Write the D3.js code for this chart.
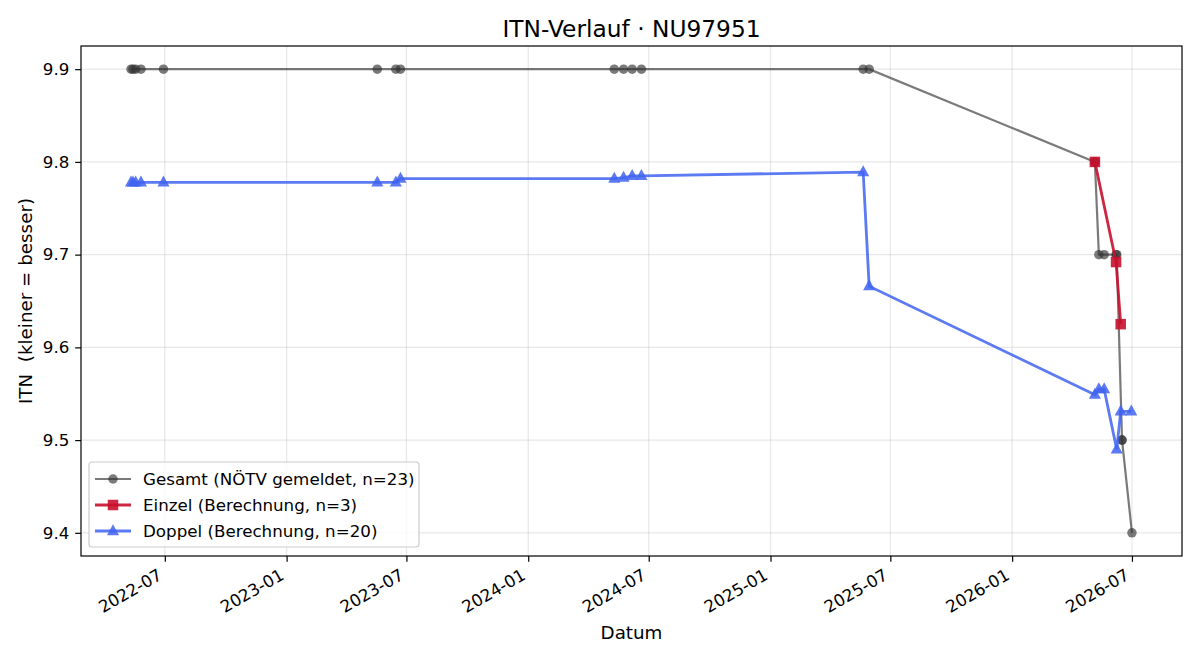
<!DOCTYPE html>
<html><head><meta charset="utf-8">
<script src="https://cdn.jsdelivr.net/npm/d3@7"></script>
<style>
body{margin:0;background:#fff;}
text{font-family:"DejaVu Sans",sans-serif;fill:#000;white-space:pre;}
</style></head>
<body><svg id="c" width="1200" height="660"></svg>
<script>
// ---- data ----
const gesamtDates = ["2022-05-11","2022-05-14","2022-05-18","2022-05-26","2022-06-29",
  "2023-05-18","2023-06-15","2023-06-22",
  "2024-05-10","2024-05-24","2024-06-06","2024-06-20",
  "2025-05-21","2025-05-30",
  "2026-05-06","2026-05-06","2026-05-12","2026-05-20","2026-06-07","2026-06-08","2026-06-16","2026-06-16","2026-07-01"];
const gesamtValues = [9.9,9.9,9.9,9.9,9.9, 9.9,9.9,9.9, 9.9,9.9,9.9,9.9, 9.9,9.9,
  9.8,9.8,9.7,9.7,9.7,9.7,9.5,9.5,9.4];
const einzelDates = ["2026-05-06","2026-06-07","2026-06-14"];
const einzelValues = [9.800,9.692,9.625];
const doppelDates = ["2022-05-11","2022-05-14","2022-05-18","2022-05-26","2022-06-29",
  "2023-05-18","2023-06-15","2023-06-22",
  "2024-05-10","2024-05-24","2024-06-06","2024-06-20",
  "2025-05-21","2025-05-30",
  "2026-05-06","2026-05-12","2026-05-20","2026-06-08","2026-06-14","2026-06-30"];
const doppelValues = [9.778,9.778,9.778,9.778,9.778, 9.778,9.778,9.782,
  9.782,9.783,9.785,9.785, 9.789,9.666,
  9.549,9.555,9.555,9.490,9.531,9.531];
const yTickValues = [9.4,9.5,9.6,9.7,9.8,9.9];
const xTickLabels = ["2022-07","2023-01","2023-07","2024-01","2024-07","2025-01","2025-07","2026-01","2026-07"];
const seriesNames = ["Gesamt (NÖTV gemeldet, n=23)","Einzel (Berechnung, n=3)","Doppel (Berechnung, n=20)"];
const titleText = "ITN-Verlauf · NU97951";
const xLabel = "Datum";
const yLabel = "ITN  (kleiner = besser)";

// ---- layout ----
const svg = d3.select("#c");
const L=81, R=1182, T=46, B=556;
const FS = 16.7;
const parse = d3.timeParse("%Y-%m-%d");
const toPts = (ds,vs)=>ds.map((d,i)=>({x:parse(d),y:vs[i]}));
const gesamt = toPts(gesamtDates,gesamtValues);
const einzel = toPts(einzelDates,einzelValues);
const doppel = toPts(doppelDates,doppelValues);
const all = gesamt.concat(einzel,doppel);
const xe = d3.extent(all,d=>d.x), ye = d3.extent(all,d=>d.y);
const xs = (xe[1]-xe[0])*0.05, ys=(ye[1]-ye[0])*0.05;
const x = d3.scaleTime().domain([new Date(+xe[0]-xs), new Date(+xe[1]+xs)]).range([L,R]);
const y = d3.scaleLinear().domain([ye[0]-ys, ye[1]+ys]).range([B,T]);
const xTicks = xTickLabels.map(s=>d3.timeParse("%Y-%m")(s));

// grid
const g = svg.append("g");
g.selectAll(".gx").data(xTicks).enter().append("line")
 .attr("x1",d=>x(d)).attr("x2",d=>x(d)).attr("y1",T).attr("y2",B)
 .attr("stroke","#b0b0b0").attr("stroke-opacity",0.3).attr("stroke-width",1.2);
g.selectAll(".gy").data(yTickValues).enter().append("line")
 .attr("y1",d=>y(d)).attr("y2",d=>y(d)).attr("x1",L).attr("x2",R)
 .attr("stroke","#b0b0b0").attr("stroke-opacity",0.3).attr("stroke-width",1.2);

// axes
const xAxis = d3.axisBottom(x).tickValues(xTicks).tickFormat(d3.timeFormat("%Y-%m")).tickSizeOuter(0).tickSize(5.8).tickPadding(5.8);
const xa = svg.append("g").attr("transform",`translate(0,${B})`).call(xAxis);
xa.select(".domain").remove();
xa.selectAll("line").attr("stroke","#000").attr("stroke-width",1.2);
xa.selectAll("text").attr("font-size",FS+"px").attr("font-family","DejaVu Sans")
  .attr("text-anchor","end").attr("dy",null).attr("y",null)
  .attr("transform","translate(-2,22.5) rotate(-30)");
const yAxis = d3.axisLeft(y).tickValues(yTickValues).tickFormat(d3.format(".1f")).tickSizeOuter(0).tickSize(5.8).tickPadding(5.8);
const ya = svg.append("g").attr("transform",`translate(${L},0)`).call(yAxis);
ya.select(".domain").remove();
ya.selectAll("line").attr("stroke","#000").attr("stroke-width",1.2);
ya.selectAll("text").attr("font-size",FS+"px").attr("font-family","DejaVu Sans");
svg.append("rect").attr("x",L).attr("y",T).attr("width",R-L).attr("height",B-T)
 .attr("fill","none").attr("stroke","#000").attr("stroke-width",1.2);

// labels
svg.append("text").attr("x",(L+R)/2).attr("y",37).attr("text-anchor","middle").attr("font-size","23.3px").text(titleText);
svg.append("text").attr("x",(L+R)/2).attr("y",639).attr("text-anchor","middle").attr("font-size","18.3px").text(xLabel);
svg.append("text").attr("transform",`translate(32,${(T+B)/2}) rotate(-90)`).attr("text-anchor","middle").attr("font-size","18.3px").text(yLabel);

// series
const line = d3.line().x(d=>x(d.x)).y(d=>y(d.y));
const plot = svg.append("g");
const tri = s=>`M0,${-s*0.62}L${s*0.55},${s*0.38}L${-s*0.55},${s*0.38}Z`;
function series(data,color,op,lw,marker,ms){
  plot.append("path").datum(data).attr("d",line).attr("fill","none")
    .attr("stroke",color).attr("stroke-opacity",op).attr("stroke-width",lw);
  const mg = plot.append("g");
  data.forEach(d=>{
    let m;
    if(marker==="o") m=mg.append("circle").attr("cx",x(d.x)).attr("cy",y(d.y)).attr("r",ms/2);
    else if(marker==="s") m=mg.append("rect").attr("x",x(d.x)-ms/2).attr("y",y(d.y)-ms/2).attr("width",ms).attr("height",ms);
    else m=mg.append("path").attr("d",tri(ms)).attr("transform",`translate(${x(d.x)},${y(d.y)})`);
    m.attr("fill",color).attr("fill-opacity",op);
  });
}
const styles = [["#333333",0.65,2.2,"o",9.5],["#c8102e",0.9,2.8,"s",10.5],["#3f63f0",0.85,2.8,"^",11]];
series(gesamt,...styles[0]);
series(einzel,...styles[1]);
series(doppel,...styles[2]);

// legend
const lg = svg.append("g");
lg.append("rect").attr("x",89).attr("y",462).attr("width",330).attr("height",85).attr("rx",3)
 .attr("fill","#fff").attr("fill-opacity",0.8).attr("stroke","#cccccc").attr("stroke-width",1.2);
seriesNames.forEach((n,i)=>{
  const yy = 479 + i*26;
  const [c,op,lw,mk,ms] = styles[i];
  lg.append("line").attr("x1",95).attr("x2",131).attr("y1",yy).attr("y2",yy).attr("stroke",c).attr("stroke-opacity",op).attr("stroke-width",lw);
  let m;
  if(mk==="o") m=lg.append("circle").attr("cx",113).attr("cy",yy).attr("r",ms/2);
  else if(mk==="s") m=lg.append("rect").attr("x",113-ms/2).attr("y",yy-ms/2).attr("width",ms).attr("height",ms);
  else m=lg.append("path").attr("d",tri(ms)).attr("transform",`translate(113,${yy})`);
  m.attr("fill",c).attr("fill-opacity",op);
  lg.append("text").attr("x",143).attr("y",yy+6).attr("font-size",FS+"px").text(n);
});
</script></body></html>
